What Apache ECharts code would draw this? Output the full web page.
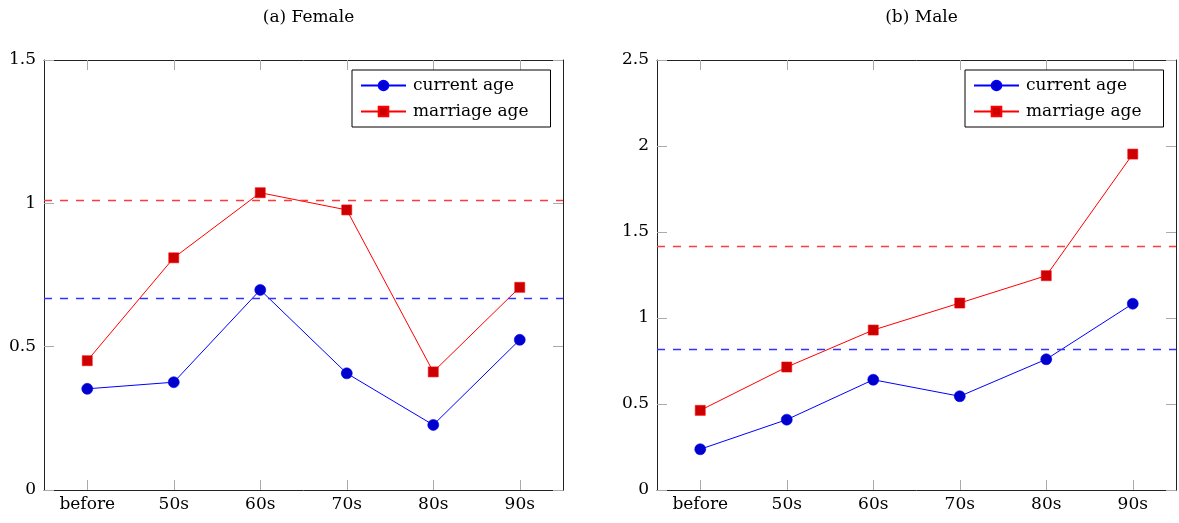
<!DOCTYPE html>
<html>
<head>
<meta charset="utf-8">
<script src="https://cdn.jsdelivr.net/npm/echarts@6/dist/echarts.min.js"></script>
<style>html,body{margin:0;padding:0;background:#fff}#c{width:1179px;height:523px}</style>
</head>
<body>
<div id="c"></div>
<script>
var categories = ['before', '50s', '60s', '70s', '80s', '90s'];
var titles = ['(a) Female', '(b) Male'];
var seriesNames = ['current age', 'marriage age'];
var femaleCurrent = [0.353, 0.376, 0.698, 0.407, 0.227, 0.524];
var femaleMarriage = [0.451, 0.810, 1.037, 0.977, 0.412, 0.707];
var femaleMeans = [0.672, 1.013];
var maleCurrent = [0.237, 0.409, 0.641, 0.545, 0.760, 1.083];
var maleMarriage = [0.463, 0.715, 0.930, 1.087, 1.246, 1.953];
var maleMeans = [0.824, 1.424];
var femaleYTicks = {min: 0, max: 1.5, interval: 0.5};
var maleYTicks = {min: 0, max: 2.5, interval: 0.5};

var FONT = '"DejaVu Serif", "Liberation Serif", serif';
var lineCol = ['#0000ff', '#ff0000'];
var markCol = ['#0000cc', '#cc0000'];
var meanCol = ['#3333ff', '#ff3a3a'];

var grids = [
  {left: 44, top: 60, width: 519, height: 430},
  {left: 657, top: 60, width: 519, height: 430}
];

var xAxes = [], yAxes = [], series = [], titleArr = [], legends = [];
var panels = [
  {cur: femaleCurrent, mar: femaleMarriage, means: femaleMeans, ticks: femaleYTicks},
  {cur: maleCurrent, mar: maleMarriage, means: maleMeans, ticks: maleYTicks}
];
function fmt(v){ return (Math.round(v*10)/10).toString(); }
panels.forEach(function(p, i){
  var g = grids[i];
  titleArr.push({text: titles[i], left: g.left + g.width/2, top: 4, textAlign: 'center',
    textStyle: {fontFamily: FONT, fontSize: 17, fontWeight: 'normal', color: '#000'}});
  var axLine = {show: true, onZero: false, lineStyle: {color: '#222', width: 1}};
  var tick = {show: true, inside: true, length: 10, alignWithLabel: true, lineStyle: {color: '#aaa', width: 1}};
  xAxes.push({type: 'category', gridIndex: i, data: categories, position: 'bottom', boundaryGap: true,
    axisLine: axLine, axisTick: tick,
    axisLabel: {fontFamily: FONT, fontSize: 17, color: '#000', margin: 6, interval: 0},
    splitLine: {show: false}});
  xAxes.push({type: 'category', gridIndex: i, data: categories, position: 'top', boundaryGap: true,
    axisLine: axLine, axisTick: tick, axisLabel: {show: false}, splitLine: {show: false}});
  var yt = {show: true, inside: true, length: 10, lineStyle: {color: '#aaa', width: 1}};
  yAxes.push({type: 'value', gridIndex: i, position: 'left', min: p.ticks.min, max: p.ticks.max, interval: p.ticks.interval,
    axisLine: axLine, axisTick: yt,
    axisLabel: {fontFamily: FONT, fontSize: 17, color: '#000', margin: 8, formatter: fmt},
    splitLine: {show: false}});
  yAxes.push({type: 'value', gridIndex: i, position: 'right', min: p.ticks.min, max: p.ticks.max, interval: p.ticks.interval,
    axisLine: axLine, axisTick: yt, axisLabel: {show: false}, splitLine: {show: false}});
  p.means.forEach(function(m, k){
    series.push({
      name: 'mean-' + k, type: 'line', xAxisIndex: i*2, yAxisIndex: i*2, data: [],
      silent: true, z: 2,
      markLine: {silent: true, symbol: 'none', animation: false,
        label: {show: false},
        lineStyle: {color: meanCol[k], opacity: 1, width: 1.4, type: [8, 8]},
        emphasis: {disabled: true},
        data: [{yAxis: m, lineStyle: {color: meanCol[k]}}]}
    });
  });
  [p.cur, p.mar].forEach(function(d, k){
    series.push({
      name: seriesNames[k], type: 'line', xAxisIndex: i*2, yAxisIndex: i*2, data: d,
      symbol: k === 0 ? 'circle' : 'rect', symbolSize: k === 0 ? 11 : 10,
      color: markCol[k],
      lineStyle: {color: lineCol[k], width: 1},
      itemStyle: {color: markCol[k], borderColor: lineCol[k], borderWidth: 0.6},
      z: 3 + k,
      animation: false
    });
  });
  legends.push({
    orient: 'vertical', left: i === 0 ? 352 : 965, top: 70,
    data: seriesNames,
    itemWidth: 45, itemHeight: 12, itemGap: 9,
    backgroundColor: '#fff', borderColor: '#000', borderWidth: 1,
    padding: [7, 22, 7, 8],
    selectedMode: false,
    textStyle: {fontFamily: FONT, fontSize: 17, color: '#000', padding: [0, 0, 0, 2]}
  });
});

var chart = echarts.init(document.getElementById('c'), null, {renderer: 'canvas'});
chart.setOption({
  animation: false,
  backgroundColor: '#fff',
  title: titleArr,
  legend: legends,
  grid: grids,
  xAxis: xAxes,
  yAxis: yAxes,
  series: series
});
</script>
</body>
</html>
